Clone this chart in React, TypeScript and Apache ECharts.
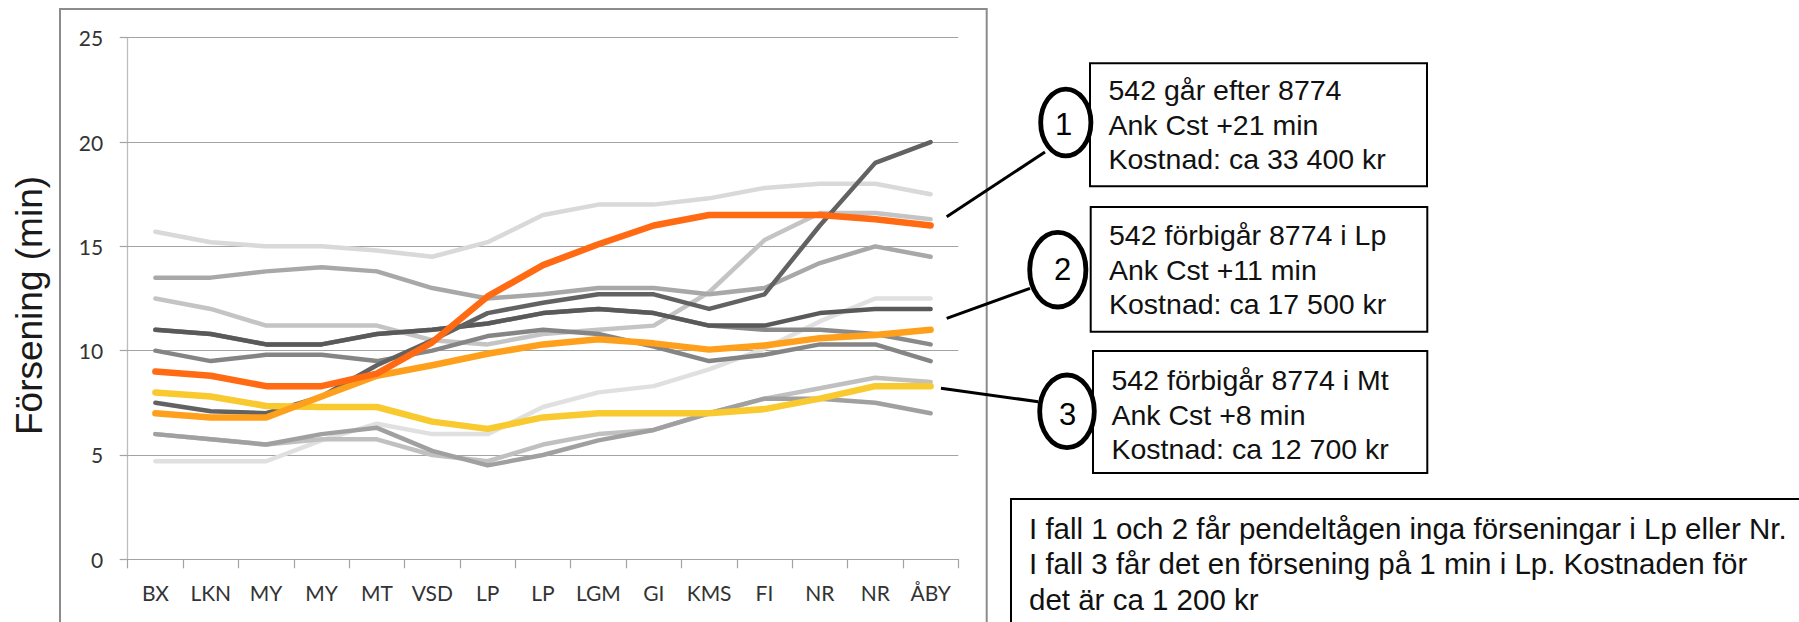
import React, { useEffect, useRef } from 'react';
import * as echarts from 'echarts';

// Categories (stations)
const categories = ['BX', 'LKN', 'MY', 'MY', 'MT', 'VSD', 'LP', 'LP', 'LGM', 'GI', 'KMS', 'FI', 'NR', 'NR', 'ÅBY'];

// Grey background scenarios
const grayA = [15.7, 15.2, 15.0, 15.0, 14.8, 14.5, 15.2, 16.5, 17.0, 17.0, 17.3, 17.8, 18.0, 18.0, 17.5];
const grayB = [13.5, 13.5, 13.8, 14.0, 13.8, 13.0, 12.5, 12.7, 13.0, 13.0, 12.7, 13.0, 14.2, 15.0, 14.5];
const grayC = [12.5, 12.0, 11.2, 11.2, 11.2, 10.5, 10.3, 10.8, 11.0, 11.2, 12.8, 15.3, 16.6, 16.6, 16.3];
const grayD1 = [7.5, 7.1, 7.0, 7.8, 9.3, 10.5, 11.8, 12.3, 12.7, 12.7, 12.0, 12.7, 16.0, 19.0, 20.0];
const grayD2 = [11.0, 10.8, 10.3, 10.3, 10.8, 11.0, 11.3, 11.8, 12.0, 11.8, 11.2, 11.2, 11.8, 12.0, 12.0];
const grayF = [11.0, 10.8, 10.3, 10.3, 10.8, 11.0, 11.3, 11.8, 12.0, 11.8, 11.2, 11.0, 11.0, 10.8, 10.3];
const grayE = [10.0, 9.5, 9.8, 9.8, 9.5, 10.0, 10.7, 11.0, 10.8, 10.2, 9.5, 9.8, 10.3, 10.3, 9.5];
const grayG = [4.7, 4.7, 4.7, 5.7, 6.5, 6.0, 6.0, 7.3, 8.0, 8.3, 9.1, 10.1, 11.4, 12.5, 12.5];
const grayH = [6.0, 5.75, 5.5, 5.75, 5.75, 5.0, 4.7, 5.5, 6.0, 6.2, 7.0, 7.7, 8.2, 8.7, 8.5];
const grayI = [6.0, 5.75, 5.5, 6.0, 6.3, 5.2, 4.5, 5.0, 5.7, 6.2, 7.0, 7.7, 7.7, 7.5, 7.0];

// Highlighted scenarios
const fall1 = [9.0, 8.8, 8.3, 8.3, 8.9, 10.4, 12.6, 14.1, 15.1, 16.0, 16.5, 16.5, 16.5, 16.3, 16.0];
const fall2 = [7.0, 6.8, 6.8, 7.8, 8.8, 9.3, 9.85, 10.3, 10.55, 10.35, 10.05, 10.25, 10.6, 10.75, 11.0];
const fall3 = [8.0, 7.8, 7.35, 7.3, 7.3, 6.6, 6.25, 6.8, 7.0, 7.0, 7.0, 7.2, 7.7, 8.3, 8.3];

const yTicks = { min: 0, max: 25, interval: 5 };

const boxTexts = [
  ['542 går efter 8774', 'Ank Cst +21 min', 'Kostnad: ca 33 400 kr'],
  ['542 förbigår 8774 i Lp', 'Ank Cst +11 min', 'Kostnad: ca 17 500 kr'],
  ['542 förbigår 8774 i Mt', 'Ank Cst +8 min', 'Kostnad: ca 12 700 kr'],
];
const caseNumbers = ['1', '2', '3'];
const noteLines = [
  'I fall 1 och 2 får pendeltågen inga förseningar i Lp eller Nr.',
  'I fall 3 får det en försening på 1 min i Lp. Kostnaden för',
  'det är ca 1 200 kr',
];

function line(name: string, data: number[], color: string, width: number) {
  return {
    name,
    type: 'line',
    data,
    symbol: 'none',
    smooth: false,
    silent: true,
    lineStyle: { color, width, cap: 'round', join: 'round' },
  };
}

export default function App() {
  const ref = useRef<HTMLDivElement>(null);
  useEffect(() => {
    if (!ref.current) return;
    const chart = echarts.init(ref.current, null, { renderer: 'svg' });

    const boxes = [
      { x: 1090, y: 63.3, w: 337, h: 123, tx: 1108.5, ty: 73 },
      { x: 1090.7, y: 207, w: 336.6, h: 124.7, tx: 1109, ty: 218 },
      { x: 1093, y: 351, w: 334.3, h: 122, tx: 1111.5, ty: 363 },
    ];
    const ellipses = [
      { cx: 1065.8, cy: 122.5, rx: 25.1, ry: 33.4, nx: 1063.7, ny: 124 },
      { cx: 1057.8, cy: 269.7, rx: 28.1, ry: 37.3, nx: 1062.5, ny: 269 },
      { cx: 1067, cy: 411.3, rx: 27.3, ry: 36.3, nx: 1067.7, ny: 414 },
    ];
    const leaders = [
      [946.7, 216.7, 1045, 152],
      [946.7, 318.3, 1030, 288.3],
      [941, 388.3, 1038.3, 401.7],
    ];

    const graphic: any[] = [
      {
        type: 'rect',
        shape: { x: 60, y: 9, width: 926.7, height: 700 },
        style: { fill: 'none', stroke: '#8c8c8c', lineWidth: 2 },
        silent: true,
        z: -10,
      },
    ];
    leaders.forEach((l) => {
      graphic.push({
        type: 'line',
        shape: { x1: l[0], y1: l[1], x2: l[2], y2: l[3] },
        style: { stroke: '#000', lineWidth: 3 },
        silent: true,
      });
    });
    boxes.forEach((b, i) => {
      graphic.push({
        type: 'rect',
        shape: { x: b.x, y: b.y, width: b.w, height: b.h },
        style: { fill: '#fff', stroke: '#000', lineWidth: 2 },
        silent: true,
      });
      graphic.push({
        type: 'text',
        style: {
          x: b.tx,
          y: b.ty,
          text: boxTexts[i].join('\n'),
          fill: '#111',
          fontFamily: 'Liberation Sans, Arial, sans-serif',
          fontSize: 28.5,
          lineHeight: 34.5,
          align: 'left',
          verticalAlign: 'top',
        },
        silent: true,
      });
    });
    ellipses.forEach((e, i) => {
      graphic.push({
        type: 'ellipse',
        shape: { cx: e.cx, cy: e.cy, rx: e.rx, ry: e.ry },
        style: { fill: '#fff', stroke: '#000', lineWidth: 4.8 },
        silent: true,
      });
      graphic.push({
        type: 'text',
        style: {
          x: e.nx,
          y: e.ny,
          text: caseNumbers[i],
          fill: '#000',
          fontFamily: 'Liberation Sans, Arial, sans-serif',
          fontSize: 31,
          align: 'center',
          verticalAlign: 'middle',
        },
        silent: true,
      });
    });
    graphic.push({
      type: 'rect',
      shape: { x: 1011, y: 499, width: 820, height: 200 },
      style: { fill: '#fff', stroke: '#000', lineWidth: 2 },
      silent: true,
    });
    graphic.push({
      type: 'text',
      style: {
        x: 1029,
        y: 510.2,
        text: noteLines.join('\n'),
        fill: '#111',
        fontFamily: 'Liberation Sans, Arial, sans-serif',
        fontSize: 29.5,
        lineHeight: 35.8,
        align: 'left',
        verticalAlign: 'top',
      },
      silent: true,
    });

    const option: any = {
      animation: false,
      backgroundColor: '#ffffff',
      grid: { left: 127.7, top: 37.7, right: 1799 - 958.3, bottom: 622 - 559.3, containLabel: false },
      xAxis: {
        type: 'category',
        data: categories,
        boundaryGap: true,
        axisLine: { show: true, lineStyle: { color: '#a3a3a3', width: 1.2 } },
        axisTick: { show: true, length: 9, interval: 0, alignWithLabel: false, lineStyle: { color: '#a3a3a3', width: 1.2 } },
        axisLabel: { interval: 0, margin: 23, fontFamily: 'Lato', fontSize: 21, color: '#333333' },
        splitLine: { show: false },
      },
      yAxis: {
        type: 'value',
        min: yTicks.min,
        max: yTicks.max,
        interval: yTicks.interval,
        name: 'Försening (min)',
        nameLocation: 'middle',
        nameRotate: 90,
        nameGap: 80,
        nameTextStyle: { fontFamily: 'Liberation Sans, Arial, sans-serif', fontSize: 37, color: '#1a1a1a', padding: [0, 14, 0, 0] },
        axisLine: { show: true, lineStyle: { color: '#bdbdbd', width: 1.3 } },
        axisTick: { show: true, length: 8, lineStyle: { color: '#a3a3a3', width: 1.2 } },
        axisLabel: { margin: 24.5, fontFamily: 'Lato', fontSize: 21, color: '#333333' },
        splitLine: { show: true, lineStyle: { color: '#a3a3a3', width: 1.2 } },
      },
      series: [
        line('A', grayA, '#d9d9d9', 4.5),
        line('G', grayG, '#e0e0e0', 4.5),
        line('H', grayH, '#c0c0c0', 4.5),
        line('C', grayC, '#c4c4c4', 4.5),
        line('B', grayB, '#a8a8a8', 4.5),
        line('I', grayI, '#a0a0a0', 4.5),
        line('E', grayE, '#858585', 4.5),
        line('F', grayF, '#8a8a8a', 4.5),
        line('D2', grayD2, '#595959', 4.5),
        line('D1', grayD1, '#626262', 4.5),
        line('Fall 3', fall3, '#f9c930', 6.5),
        line('Fall 2', fall2, '#ffa01c', 6.5),
        line('Fall 1', fall1, '#ff6a13', 6.5),
      ],
      graphic,
    };
    chart.setOption(option);
    return () => chart.dispose();
  }, []);
  return (
    <div
      ref={ref}
      style={{ position: 'fixed', left: 0, top: 0, width: 1799, height: 622, background: '#fff' }}
    />
  );
}
